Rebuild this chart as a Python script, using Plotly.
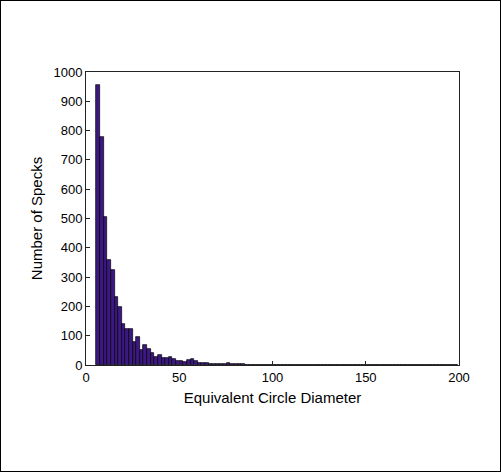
import plotly.graph_objects as go

# Histogram data: 100 equal-width bins
bin_start = 5.6
bin_width = 1.94
counts = [957, 778, 504, 359, 325, 233, 198, 140, 124, 124,
          78, 94, 50, 67, 56, 41, 27, 35, 24, 24,
          26, 20, 15, 15, 9, 16, 19, 12, 8, 6,
          6, 5, 3, 3, 3, 2, 8, 4, 3, 3,
          2, 1, 0, 1, 1, 1, 1, 1, 0, 1,
          0, 0, 0, 1, 0, 0, 1, 0, 0, 0,
          0, 0, 1, 0, 0, 0, 0, 0, 0, 0,
          0, 1, 0, 0, 0, 0, 1, 0, 0, 0,
          0, 0, 0, 0, 0, 0, 0, 0, 0, 0,
          0, 0, 0, 0, 0, 0, 0, 0, 0, 1]
centers = [bin_start + bin_width * (i + 0.5) for i in range(len(counts))]

x_ticks = [0, 50, 100, 150, 200]
y_ticks = [0, 100, 200, 300, 400, 500, 600, 700, 800, 900, 1000]

W, H = 501, 472
L, R, T, B = 86, 42, 72, 107

fig = go.Figure(go.Bar(
    x=centers, y=counts, width=bin_width,
    marker=dict(color="#3c1884", line=dict(color="black", width=0.7)),
))

axis_common = dict(
    showgrid=False, zeroline=False, showline=True, linecolor="#222222",
    linewidth=1, mirror=True, ticks="inside", ticklen=4, tickcolor="#222222",
    tickfont=dict(family="Liberation Sans, Arial, sans-serif", size=13, color="black"),
)

fig.update_layout(
    width=W, height=H,
    margin=dict(l=L, r=R, t=T, b=B),
    paper_bgcolor="white", plot_bgcolor="white",
    showlegend=False, bargap=0,
    font=dict(family="Liberation Sans, Arial, sans-serif", color="black"),
    xaxis=dict(range=[0, 200], tickvals=x_ticks, ticktext=[str(v) for v in x_ticks],
               title=dict(text="Equivalent Circle Diameter", font=dict(size=15), standoff=8),
               **axis_common),
    yaxis=dict(range=[0, 1000], tickvals=y_ticks, ticktext=[str(v) for v in y_ticks],
               title=dict(text="Number of Specks", font=dict(size=15), standoff=7),
               **axis_common),
)

post = (
    "document.body.style.margin='0';"
    "var fr=document.createElement('div');"
    "fr.style.position='absolute';fr.style.left='0px';fr.style.top='0px';"
    "fr.style.width='%dpx';fr.style.height='%dpx';"
    "fr.style.boxSizing='border-box';fr.style.border='1px solid black';"
    "fr.style.pointerEvents='none';fr.style.zIndex='10000';"
    "document.body.appendChild(fr);" % (W, H)
)
fig.write_html("out.html", config={"displayModeBar": False}, post_script=post)
